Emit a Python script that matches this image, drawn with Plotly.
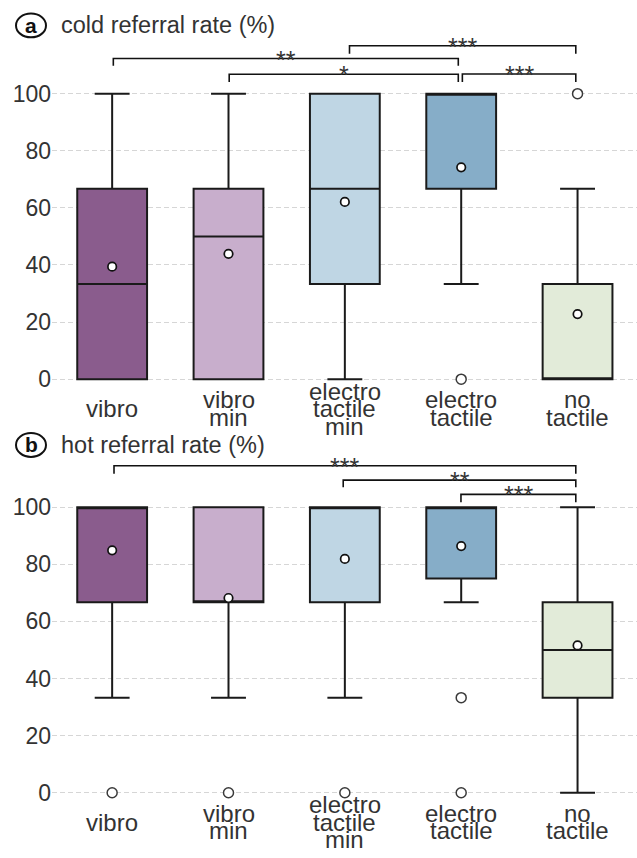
import plotly.graph_objects as go

W, H = 637, 858

# ---- data -------------------------------------------------------------
CATEGORIES = ["vibro", "vibro\nmin", "electro\ntactile\nmin", "electro\ntactile", "no\ntactile"]
FILL_COLORS = ["#8A5C8D", "#C8AECC", "#BFD6E4", "#86ADC8", "#E2EBD9"]
Y_TICKS = [0, 20, 40, 60, 80, 100]

# cold referral rate (%)
COLD_LOWER = [0, 0, 0, 33.3, 0]
COLD_Q1 = [0, 0, 33.3, 66.7, 0]
COLD_MEDIAN = [33.3, 50, 66.7, 100, 0]
COLD_Q3 = [66.7, 66.7, 100, 100, 33.3]
COLD_UPPER = [100, 100, 100, 100, 66.7]
COLD_MEAN = [39.4, 43.9, 62.1, 74.2, 22.8]
COLD_OUTLIERS = [[], [], [], [0], [100]]
# (left pos, right pos, bar height, tick end, label)
COLD_BRACKETS = [
    (0.01, 2.975, 112.3, 109.8, "**"),
    (1.006, 2.975, 106.8, 104.1, "*"),
    (2.04, 3.985, 116.8, 114.0, "***"),
    (3.01, 3.985, 106.9, 104.1, "***"),
]

# hot referral rate (%)
HOT_LOWER = [33.3, 33.3, 33.3, 66.7, 0]
HOT_Q1 = [66.7, 66.7, 66.7, 75, 33.3]
HOT_MEDIAN = [100, 66.7, 100, 100, 50]
HOT_Q3 = [100, 100, 100, 100, 66.7]
HOT_UPPER = [100, 100, 100, 100, 100]
HOT_MEAN = [84.9, 68.2, 81.9, 86.4, 51.6]
HOT_OUTLIERS = [[0], [0], [0], [33.3, 0], []]
HOT_BRACKETS = [
    (0.016, 3.985, 114.5, 111.7, "***"),
    (1.986, 3.985, 109.5, 107.0, "**"),
    (2.998, 3.985, 104.5, 101.7, "***"),
]

PANELS = [
    dict(letter="a", title="cold referral rate (%)", lower=COLD_LOWER, q1=COLD_Q1,
         median=COLD_MEDIAN, q3=COLD_Q3, upper=COLD_UPPER, mean=COLD_MEAN,
         outliers=COLD_OUTLIERS, brackets=COLD_BRACKETS),
    dict(letter="b", title="hot referral rate (%)", lower=HOT_LOWER, q1=HOT_Q1,
         median=HOT_MEDIAN, q3=HOT_Q3, upper=HOT_UPPER, mean=HOT_MEAN,
         outliers=HOT_OUTLIERS, brackets=HOT_BRACKETS),
]

# ---- geometry (pixels) ------------------------------------------------
FONT = "Liberation Sans, Arial, Helvetica, sans-serif"
TEXT_COLOR = "#333333"
ZERO_PX = [380.5, 795.5]          # pixel row of y = 0 in each panel
HEADING_PX = [25.5, 446.5]        # pixel row of each panel heading
PX_PER_UNIT = 2.865
Y_LO, Y_HI = -3.5, 119.5
X_LEFT_PX = 52
X_RANGE = [-0.517, 4.511]


def ydomain(zero_px):
    top = zero_px - Y_HI * PX_PER_UNIT
    bot = zero_px - Y_LO * PX_PER_UNIT
    return [1 - bot / H, 1 - top / H]


fig = go.Figure()
annotations = []
shapes = []

for p, panel in enumerate(PANELS):
    xa = "x" if p == 0 else "x2"
    ya = "y" if p == 0 else "y2"
    positions = list(range(len(CATEGORIES)))

    for i in positions:
        fig.add_trace(go.Box(
            x=[i], q1=[panel["q1"][i]], median=[panel["median"][i]],
            q3=[panel["q3"][i]], lowerfence=[panel["lower"][i]],
            upperfence=[panel["upper"][i]],
            width=0.6, whiskerwidth=0.5, boxpoints=False,
            fillcolor=FILL_COLORS[i],
            line=dict(color="#1a1a1a", width=2),
            xaxis=xa, yaxis=ya, showlegend=False, hoverinfo="skip",
        ))

    # outliers
    ox, oy = [], []
    for i in positions:
        for v in panel["outliers"][i]:
            ox.append(i)
            oy.append(v)
    fig.add_trace(go.Scatter(
        x=ox, y=oy, mode="markers", xaxis=xa, yaxis=ya, showlegend=False,
        marker=dict(symbol="circle", size=10, color="white",
                    line=dict(color="#3a3a3a", width=1.5)),
    ))

    # means
    fig.add_trace(go.Scatter(
        x=positions, y=panel["mean"], mode="markers", xaxis=xa, yaxis=ya,
        showlegend=False,
        marker=dict(symbol="circle", size=8.5, color="white",
                    line=dict(color="#111111", width=1.7)),
    ))

    # significance brackets
    for (x0, x1, yb, yt, label) in panel["brackets"]:
        fig.add_trace(go.Scatter(
            x=[x0, x0, x1, x1], y=[yt, yb, yb, yt], mode="lines",
            xaxis=xa, yaxis=ya, showlegend=False, hoverinfo="skip",
            line=dict(color="#111111", width=1.6),
        ))
        annotations.append(dict(
            x=(x0 + x1) / 2, y=yb, xref=xa, yref=ya, text=label,
            showarrow=False, xanchor="center", yanchor="middle", yshift=-1,
            font=dict(family=FONT, size=25, color=TEXT_COLOR),
        ))

    # category labels, one annotation per line for tight line spacing
    for i, cat in enumerate(CATEGORIES):
        lines = cat.split("\n")
        n = len(lines)
        for k, line in enumerate(lines):
            baseline_off = 38 + (k - (n - 1) / 2) * 17.5
            annotations.append(dict(
                x=i, y=0, xref=xa, yref=ya, text=line, showarrow=False,
                xanchor="center", yanchor="middle",
                yshift=-(baseline_off - 8.5),
                font=dict(family=FONT, size=24, color=TEXT_COLOR),
            ))

    # panel heading: circled letter + title
    hy = HEADING_PX[p]
    shapes.append(dict(
        type="circle", xref="paper", yref="paper",
        x0=16 / W, x1=46 / W, y0=1 - (hy + 12) / H, y1=1 - (hy - 12) / H,
        line=dict(color="#111111", width=2),
    ))
    annotations.append(dict(
        x=31 / W, y=1 - hy / H, xref="paper", yref="paper",
        text="<b>%s</b>" % panel["letter"], showarrow=False,
        xanchor="center", yanchor="middle",
        font=dict(family=FONT, size=21, color="#111111"),
    ))
    annotations.append(dict(
        x=59 / W, y=1 - hy / H, xref="paper", yref="paper",
        text=panel["title"], showarrow=False, xanchor="left", yanchor="middle",
        font=dict(family=FONT, size=23.5, color=TEXT_COLOR),
    ))

axis_x = dict(domain=[X_LEFT_PX / W, 1], range=X_RANGE, showticklabels=False,
              showgrid=False, zeroline=False, showline=False, ticks="")
axis_y = dict(range=[Y_LO, Y_HI], tickvals=Y_TICKS, showgrid=True,
              gridcolor="#d6d6d6", gridwidth=1, griddash="5px,3px",
              zeroline=False, showline=False, ticks="",
              ticklabelstandoff=0,
              tickfont=dict(family=FONT, size=23, color=TEXT_COLOR))

fig.update_layout(
    width=W, height=H,
    margin=dict(l=0, r=0, t=0, b=0),
    paper_bgcolor="white", plot_bgcolor="white",
    xaxis=dict(axis_x, anchor="y"),
    xaxis2=dict(axis_x, anchor="y2"),
    yaxis=dict(axis_y, domain=ydomain(ZERO_PX[0]), anchor="x"),
    yaxis2=dict(axis_y, domain=ydomain(ZERO_PX[1]), anchor="x2"),
    annotations=annotations,
    shapes=shapes,
    boxmode="overlay",
    showlegend=False,
)

fig.write_html("out.html")
